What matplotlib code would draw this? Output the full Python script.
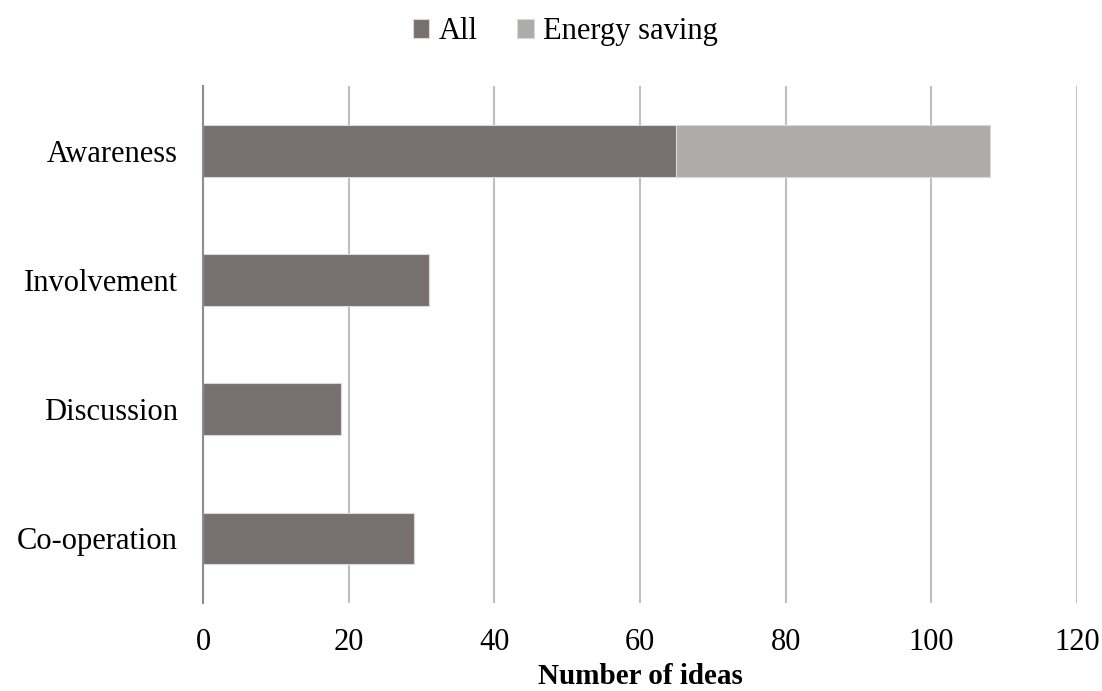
import numpy as np
import matplotlib.pyplot as plt

categories = ['Awareness', 'Involvement', 'Discussion', 'Co-operation']
all_ideas = [65, 31, 19, 29]
energy_saving = [43, 0, 0, 0]

plt.rcParams['font.family'] = ['Liberation Serif', 'DejaVu Serif']

fig = plt.figure(figsize=(11.02, 6.91), dpi=100)
ax = fig.add_axes([0.1842, 0.1273, 0.7931, 0.7482])

y = np.arange(len(categories))
ax.barh(y, all_ideas, height=0.4, color='#767170', edgecolor='#d9d9d9',
        linewidth=0.8, label='All', zorder=3)
ax.barh(y, energy_saving, left=all_ideas, height=0.4, color='#afabab',
        edgecolor='#d9d9d9', linewidth=0.8, label='Energy saving', zorder=3)

ax.set_xlim(0, 120)
ax.set_ylim(3.5, -0.5)
ax.set_xticks(np.arange(0, 121, 20))
ax.set_yticks(y)
ax.set_yticklabels(categories)
ax.grid(axis='x', color='#bfbfbf', linewidth=1.5, zorder=0)
ax.tick_params(axis='both', length=0, labelsize=22, colors='black')
ax.tick_params(axis='x', pad=18)
ax.tick_params(axis='y', pad=18)

for s in ['top', 'right', 'bottom']:
    ax.spines[s].set_visible(False)
ax.spines['left'].set_color('#8c8c8c')
ax.spines['left'].set_linewidth(1.5)
ax.spines['left'].set_zorder(4)

ax.set_xlabel('Number of ideas', fontsize=21, fontweight='bold', labelpad=4)

fig.legend(loc='upper center', bbox_to_anchor=(0.513, 1.015), ncol=2, frameon=False,
           fontsize=22, handlelength=0.55, handleheight=0.55, handletextpad=0.3,
           columnspacing=1.3)

fig.savefig('out.png', dpi=100)
